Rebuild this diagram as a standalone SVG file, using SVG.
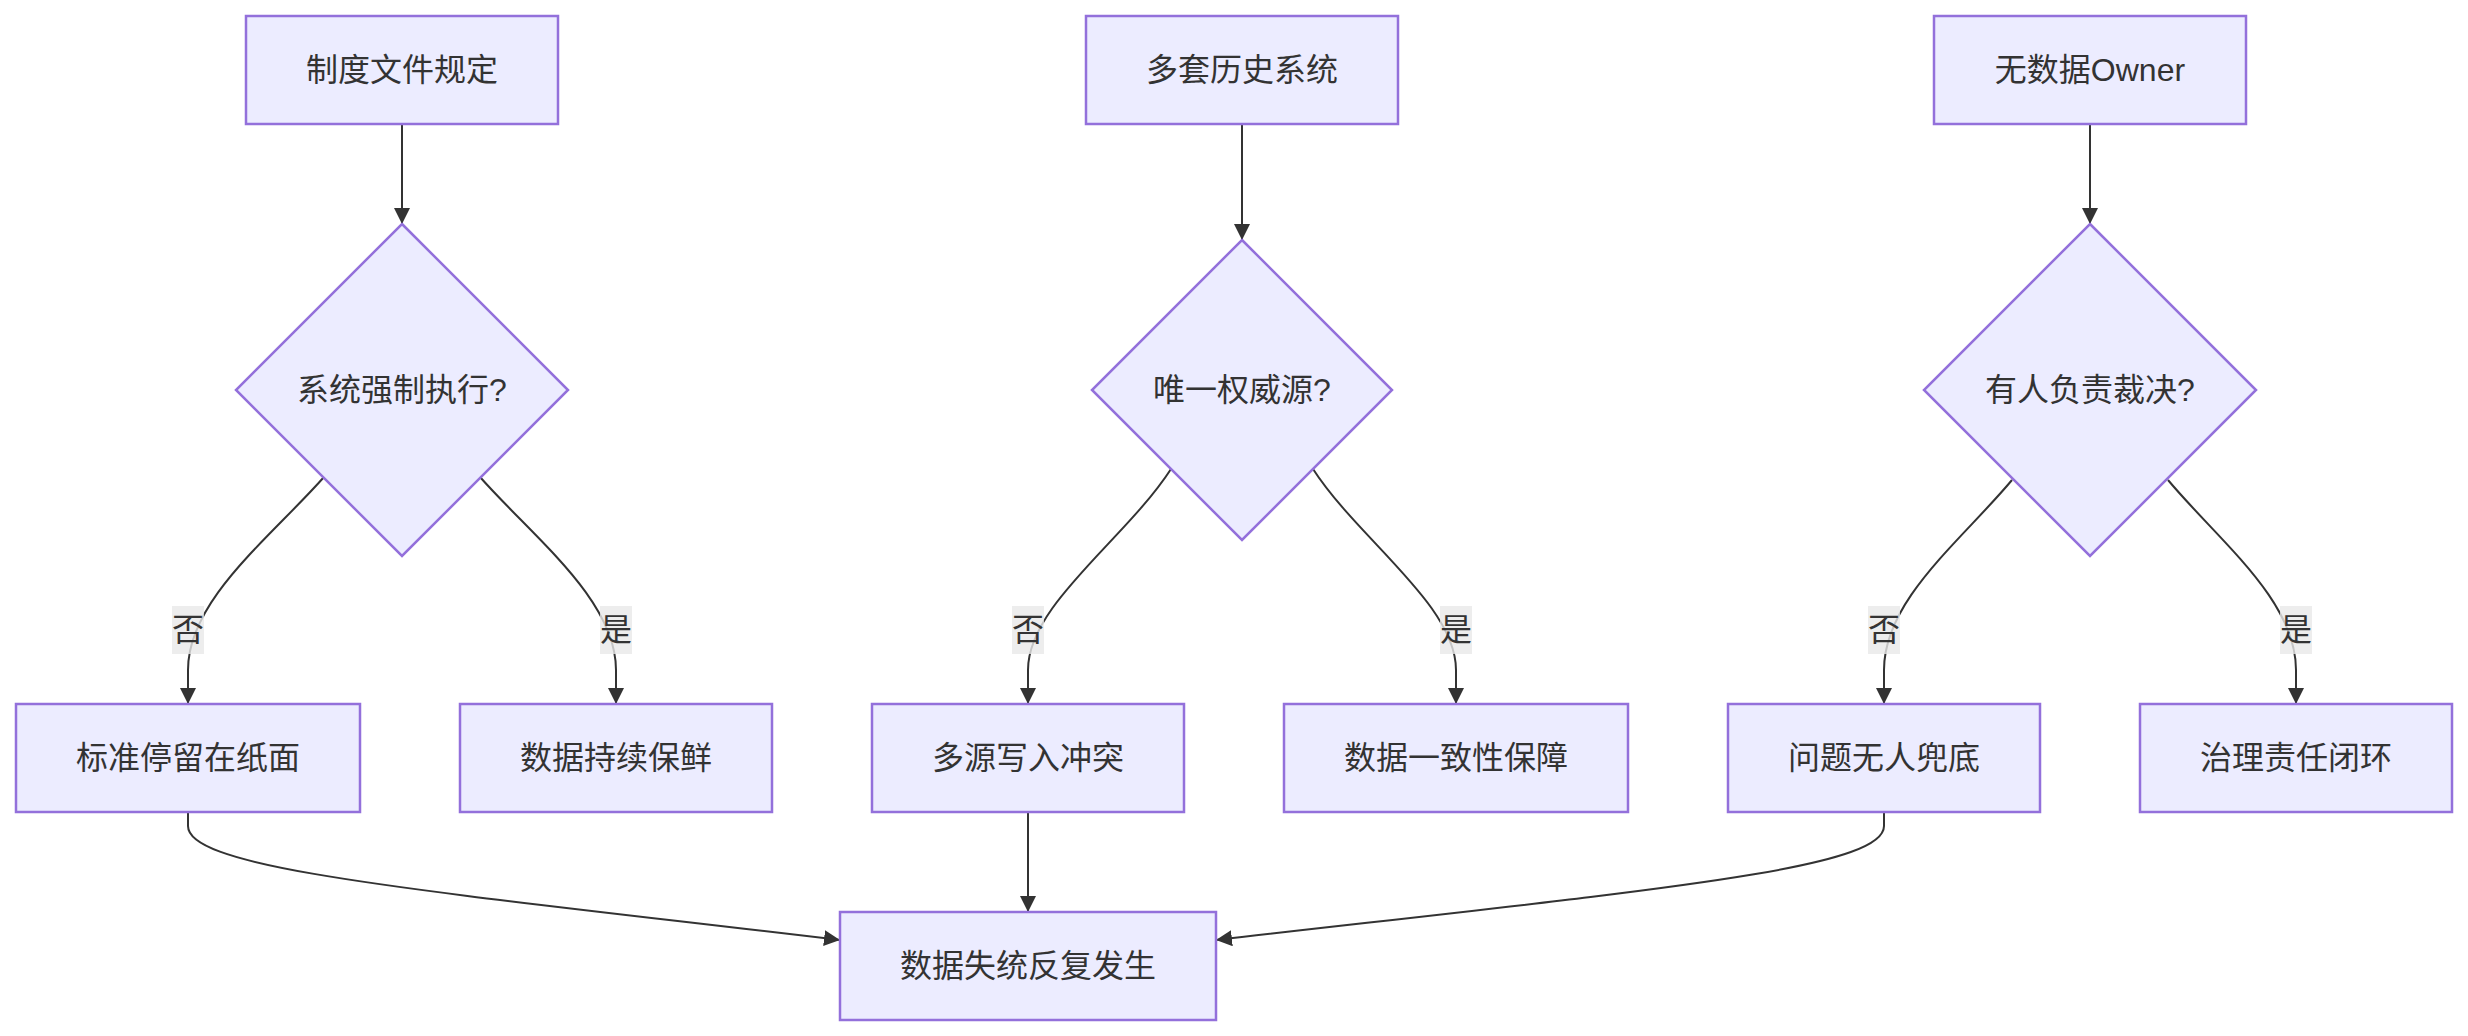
<svg xmlns="http://www.w3.org/2000/svg" width="2468" height="1036" viewBox="0 0 2468 1036">
<defs>
<style>
.node rect, .node polygon { fill: #ECECFF; stroke: #9370DB; stroke-width: 2.5; }
.node text, .elabel text { font-family: "trebuchet ms", verdana, arial, "Noto Sans CJK SC", sans-serif; font-size: 32px; fill: #333333; text-anchor: middle; dominant-baseline: central; }
.edge { fill: none; stroke: #333333; stroke-width: 2; marker-end: url(#arrow); }
.elabel rect { fill: #e8e8e8; fill-opacity: 0.8; }
</style>
<marker id="arrow" viewBox="0 0 10 10" refX="10" refY="5" markerUnits="userSpaceOnUse" markerWidth="16" markerHeight="16" orient="auto">
<path d="M0,0 L10,5 L0,10 z" fill="#333333"/>
</marker>
</defs>
<rect width="2468" height="1036" fill="#ffffff"/>
<g id="connectors">
<path class="edge" d="M402,124 L402,224"/>
<path class="edge" d="M1242,124 L1242,240"/>
<path class="edge" d="M2090,124 L2090,224"/>
<path class="edge" d="M324,477 C270,538 188,600 188,670 L188,704"/>
<path class="edge" d="M480,477 C534,538 616,600 616,670 L616,704"/>
<path class="edge" d="M1171,469 C1125,540 1028,605 1028,670 L1028,704"/>
<path class="edge" d="M1313,469 C1359,540 1456,605 1456,670 L1456,704"/>
<path class="edge" d="M2012,480 C1961,541 1884,600 1884,670 L1884,704"/>
<path class="edge" d="M2168,480 C2219,541 2296,600 2296,670 L2296,704"/>
<path class="edge" d="M188,812 L188,826 C188,870 420,890 840,940"/>
<path class="edge" d="M1028,812 L1028,912"/>
<path class="edge" d="M1884,812 L1884,826 C1884,870 1652,890 1216,940"/>
<g class="elabel"><rect x="172" y="606" width="32" height="48"/><text x="188" y="630">否</text></g>
<g class="elabel"><rect x="600" y="606" width="32" height="48"/><text x="616" y="630">是</text></g>
<g class="elabel"><rect x="1012" y="606" width="32" height="48"/><text x="1028" y="630">否</text></g>
<g class="elabel"><rect x="1440" y="606" width="32" height="48"/><text x="1456" y="630">是</text></g>
<g class="elabel"><rect x="1868" y="606" width="32" height="48"/><text x="1884" y="630">否</text></g>
<g class="elabel"><rect x="2280" y="606" width="32" height="48"/><text x="2296" y="630">是</text></g>
</g>
<g id="A" class="node"><rect x="246" y="16" width="312" height="108"/><text x="402" y="70">制度文件规定</text></g>
<g id="B" class="node"><rect x="1086" y="16" width="312" height="108"/><text x="1242" y="70">多套历史系统</text></g>
<g id="C" class="node"><rect x="1934" y="16" width="312" height="108"/><text x="2090" y="70">无数据Owner</text></g>
<g id="D1" class="node"><polygon points="402,224 568,390 402,556 236,390"/><text x="402" y="390">系统强制执行?</text></g>
<g id="D2" class="node"><polygon points="1242,240 1392,390 1242,540 1092,390"/><text x="1242" y="390">唯一权威源?</text></g>
<g id="D3" class="node"><polygon points="2090,224 2256,390 2090,556 1924,390"/><text x="2090" y="390">有人负责裁决?</text></g>
<g id="E1" class="node"><rect x="16" y="704" width="344" height="108"/><text x="188" y="758">标准停留在纸面</text></g>
<g id="E2" class="node"><rect x="460" y="704" width="312" height="108"/><text x="616" y="758">数据持续保鲜</text></g>
<g id="E3" class="node"><rect x="872" y="704" width="312" height="108"/><text x="1028" y="758">多源写入冲突</text></g>
<g id="E4" class="node"><rect x="1284" y="704" width="344" height="108"/><text x="1456" y="758">数据一致性保障</text></g>
<g id="E5" class="node"><rect x="1728" y="704" width="312" height="108"/><text x="1884" y="758">问题无人兜底</text></g>
<g id="E6" class="node"><rect x="2140" y="704" width="312" height="108"/><text x="2296" y="758">治理责任闭环</text></g>
<g id="F" class="node"><rect x="840" y="912" width="376" height="108"/><text x="1028" y="966">数据失统反复发生</text></g>
</svg>
